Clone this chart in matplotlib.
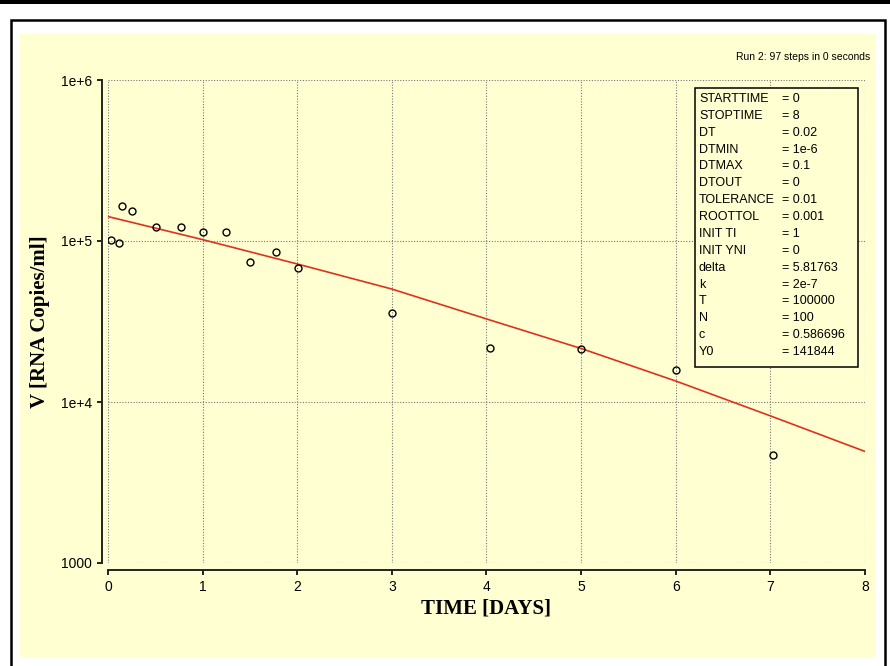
import matplotlib
matplotlib.use("Agg")
import matplotlib.pyplot as plt
from matplotlib.patches import Rectangle
from matplotlib.ticker import NullLocator

W, H = 890, 666
BG = "#FFFFD2"

# measured viral load, RNA copies/ml
t_obs = [0.03, 0.12, 0.15, 0.25, 0.51, 0.77, 1.0, 1.25, 1.5, 1.78, 2.01,
         3.0, 4.04, 5.0, 6.0, 7.03]
v_obs = [1.01e5, 9.7e4, 1.64e5, 1.53e5, 1.23e5, 1.23e5, 1.13e5, 1.13e5,
         7.4e4, 8.5e4, 6.8e4, 3.55e4, 2.18e4, 2.14e4, 1.57e4, 4.7e3]

# model output, run 2
t_fit = [0, 1, 2, 3, 4, 5, 6, 7, 8]
v_fit = [141844, 1.02e5, 7.2e4, 5.03e4, 3.28e4, 2.15e4, 1.35e4, 8.2e3, 4.93e3]

param_names = ["STARTTIME", "STOPTIME", "DT", "DTMIN", "DTMAX", "DTOUT",
               "TOLERANCE", "ROOTTOL", "INIT TI", "INIT YNI", "delta", "k",
               "T", "N", "c", "Y0"]
param_values = ["0", "8", "0.02", "1e-6", "0.1", "0", "0.01", "0.001", "1",
                "0", "5.81763", "2e-7", "100000", "100", "0.586696", "141844"]

x_ticks = [0, 1, 2, 3, 4, 5, 6, 7, 8]
y_ticks = [1e3, 1e4, 1e5, 1e6]
y_ticklabels = ["1000", "1e+4", "1e+5", "1e+6"]

sans = ["Liberation Sans", "DejaVu Sans"]
serif = ["Liberation Serif", "DejaVu Serif"]

fig = plt.figure(figsize=(W / 100, H / 100), dpi=100)

# window decorations: top bar, outer frame, yellow panel
fig.add_artist(Rectangle((0, 1 - 4 / H), 1, 4 / H, transform=fig.transFigure,
                         fc="black", ec="none"))
fig.add_artist(Rectangle((10.5 / W, -0.05), (885 - 10.5) / W, 1 - 20 / H + 0.05,
                         transform=fig.transFigure, fill=False, ec="black", lw=1.8))
fig.add_artist(Rectangle((20 / W, 1 - 657 / H), (876 - 20) / W, (657 - 34) / H,
                         transform=fig.transFigure, fc=BG, ec="none", zorder=-5))

fig.text(870 / W, 1 - 57 / H, "Run 2: 97 steps in 0 seconds", ha="right",
         va="center", fontsize=7.5, family=sans)

ax = fig.add_axes([108 / W, 1 - 563 / H, 757 / W, 483 / H])
ax.set_facecolor("none")

ax.semilogy(t_fit, v_fit, color="#E0301E", lw=1.2, zorder=3)
ax.plot(t_obs, v_obs, "o", mfc="none", mec="black", ms=5, mew=1.0, zorder=4)

ax.set_xlim(0, 8)
ax.set_ylim(1e3, 1e6)
ax.set_xticks(x_ticks)
ax.set_yticks(y_ticks, y_ticklabels)
ax.yaxis.set_minor_locator(NullLocator())

ax.grid(True, color="#777777", ls=(0, (1, 1.5)), lw=0.8)
for gl in ax.get_xgridlines() + ax.get_ygridlines():
    gl.set_clip_on(False)

ax.spines["top"].set_visible(False)
ax.spines["right"].set_visible(False)
ax.spines["left"].set_position(("outward", 4.3))
ax.spines["bottom"].set_position(("outward", 5))
for s in ("left", "bottom"):
    ax.spines[s].set_linewidth(1.4)
    ax.spines[s].set_color("#222222")

ax.tick_params(direction="out", length=3.6, width=1.4, pad=3.5, labelsize=10,
               color="#222222")
for lab in ax.get_xticklabels() + ax.get_yticklabels():
    lab.set_family(sans)

ax.set_xlabel("TIME [DAYS]", family=serif, fontweight="bold", fontsize=15)
ax.set_ylabel("V [RNA Copies/ml]", family=serif, fontweight="bold", fontsize=15)
ax.xaxis.label.set_va("center")
ax.yaxis.label.set_va("center")
ax.xaxis.set_label_coords(0.5, -(608 - 563) / 483)
ax.yaxis.set_label_coords(-(108 - 40) / 757, 0.5)

# parameter table
bx0, bx1 = (695 - 108) / 757, (858 - 108) / 757
by0, by1 = (563 - 367) / 483, (563 - 88) / 483
ax.add_patch(Rectangle((bx0, by0), bx1 - bx0, by1 - by0, transform=ax.transAxes,
                       fc=BG, ec="black", lw=1.1, zorder=5, clip_on=False))
for i, (name, val) in enumerate(zip(param_names, param_values)):
    y = (563 - (99 + i * 16.87)) / 483
    ax.text((699 - 108) / 757, y, name, transform=ax.transAxes, ha="left",
            va="center", fontsize=9, family=sans, zorder=6)
    ax.text((782 - 108) / 757, y, "= " + val, transform=ax.transAxes,
            ha="left", va="center", fontsize=9, family=sans, zorder=6)

fig.savefig("out.png", dpi=100)
